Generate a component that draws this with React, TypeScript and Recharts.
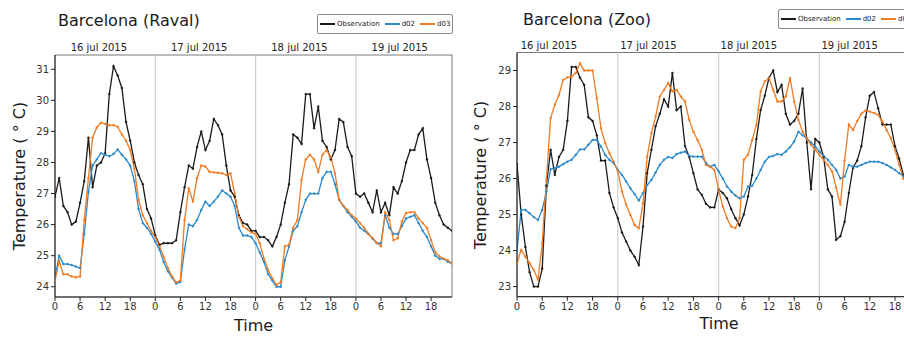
import React from 'react'
import { LineChart, Line, XAxis, YAxis, ReferenceLine, ReferenceArea } from 'recharts'

// hourly values, 16-19 jul 2015 (96 hours)
const ravalObs = [
  26.9, 27.5, 26.6, 26.4, 26.0, 26.1, 26.7, 27.4, 28.8, 27.2, 27.9, 28.0, 28.3, 30.2, 31.1, 30.8, 30.4, 29.3, 28.7, 28.0, 27.6, 27.3, 26.5, 26.2,
  25.65, 25.35, 25.4, 25.4, 25.4, 25.5, 26.4, 27.2, 27.9, 27.8, 28.5, 29.0, 28.4, 28.7, 29.4, 29.2, 28.9, 27.9, 27.1, 26.9, 26.3, 26.05, 26.0, 25.8,
  25.8, 25.6, 25.6, 25.5, 25.3, 25.6, 26.0, 26.7, 27.3, 28.9, 28.8, 28.6, 30.2, 30.2, 29.1, 29.8, 28.7, 28.5, 28.1, 28.4, 29.4, 29.3, 28.5, 28.2,
  27.0, 26.9, 27.0, 26.7, 26.4, 27.1, 26.4, 26.7, 26.3, 27.2, 27.0, 27.4, 28.0, 28.4, 28.4, 28.9, 29.1, 28.1, 27.5, 26.7, 26.3, 26.0, 25.9, 25.8,
]
const ravalD02 = [
  24.3, 25.0, 24.73, 24.73, 24.7, 24.65, 24.6, 25.7, 27.05, 27.9, 28.1, 28.3, 28.25, 28.2, 28.27, 28.42, 28.25, 28.1, 27.9, 27.4, 26.5, 26.05, 25.9, 25.7,
  25.45, 25.2, 24.8, 24.5, 24.3, 24.1, 24.15, 25.2, 26.0, 25.95, 26.15, 26.47, 26.74, 26.6, 26.74, 26.9, 27.1, 27.0, 26.9, 26.6, 25.9, 25.65, 25.65, 25.6,
  25.4, 25.1, 24.8, 24.4, 24.2, 24.0, 24.0, 24.85, 25.3, 25.8, 25.95, 26.4, 26.8, 27.0, 27.0, 27.0, 27.5, 27.7, 27.7, 27.3, 26.8, 26.6, 26.4, 26.25,
  26.1, 25.9, 25.8, 25.7, 25.55, 25.4, 25.4, 26.3, 25.9, 25.7, 25.7, 25.95, 26.2, 26.25, 26.3, 26.05, 25.8, 25.6, 25.3, 25.0, 24.9, 24.9, 24.8, 24.75,
]
const ravalD03 = [
  24.2, 24.83, 24.4, 24.4, 24.33, 24.3, 24.33, 26.15, 27.5, 28.8, 29.13, 29.28, 29.24, 29.2, 29.2, 29.15, 28.9, 28.7, 28.4, 27.8, 26.8, 26.3, 26.05, 25.8,
  25.6, 25.3, 24.97, 24.6, 24.33, 24.14, 24.2, 26.15, 27.17, 26.74, 27.5, 27.9, 27.87, 27.7, 27.68, 27.67, 27.65, 27.6, 27.65, 27.0, 26.25, 25.95, 25.85, 25.75,
  25.7, 25.4, 24.9, 24.55, 24.27, 24.06, 24.14, 25.3, 25.35, 25.9, 26.15, 27.45, 28.1, 28.25, 28.1, 27.7, 28.25, 28.4, 28.17, 27.65, 26.8, 26.6, 26.47, 26.3,
  26.2, 26.05, 25.9, 25.7, 25.56, 25.42, 25.3, 26.4, 26.15, 25.5, 25.56, 26.1, 26.37, 26.4, 26.4, 26.2, 26.05, 25.9, 25.5, 25.1, 24.98, 24.9, 24.85, 24.75,
]

const zooObs = [
  26.4, 25.0, 24.1, 23.4, 23.0, 23.0, 23.5, 25.8, 26.8, 26.1, 26.6, 26.8, 27.6, 29.1, 29.1, 28.8, 28.6, 27.7, 27.6, 27.2, 26.5, 26.5, 25.6, 25.2,
  24.9, 24.5, 24.25, 24.0, 23.83, 23.6, 24.67, 26.15, 26.8, 27.45, 27.8, 28.2, 28.0, 28.93, 27.9, 28.0, 26.9, 26.6, 26.15, 25.7, 25.55, 25.3, 25.2, 25.2,
  25.7, 25.6, 25.45, 25.15, 24.9, 24.7, 25.0, 25.5, 26.1, 27.1, 27.9, 28.3, 28.8, 29.0, 28.4, 28.6, 27.8, 27.5, 27.6, 27.8, 28.5, 27.0, 25.7, 27.1,
  27.0, 26.6, 25.7, 25.5, 24.3, 24.4, 24.8, 25.6, 26.3, 26.5, 26.9, 27.7, 28.3, 28.4, 27.95, 27.5, 27.5, 27.5, 26.9, 26.55, 26.1, 26.05, 26.0, 25.9,
]
const zooD02 = [
  24.0, 25.13, 25.13, 25.04, 24.93, 24.85, 25.13, 25.64, 26.26, 26.29, 26.33, 26.4, 26.47, 26.52, 26.66, 26.81, 26.81, 26.94, 27.07, 27.07, 26.89, 26.66, 26.52, 26.43,
  26.24, 26.1, 25.92, 25.73, 25.57, 25.39, 25.6, 25.82, 25.96, 26.17, 26.38, 26.52, 26.6, 26.57, 26.68, 26.72, 26.75, 26.63, 26.61, 26.61, 26.61, 26.43, 26.33, 26.38,
  26.2, 26.0, 25.78, 25.64, 25.53, 25.45, 25.5, 25.78, 25.8, 26.0, 26.24, 26.47, 26.6, 26.63, 26.68, 26.66, 26.75, 26.87, 27.03, 27.3, 27.2, 27.12, 27.0, 26.89,
  26.75, 26.63, 26.52, 26.38, 26.24, 26.0, 26.06, 26.38, 26.33, 26.33, 26.38, 26.43, 26.47, 26.47, 26.47, 26.43, 26.38, 26.31, 26.24, 26.15, 26.07, 26.0, 25.95, 25.9,
]
const zooD03 = [
  23.65, 24.02, 23.83, 23.65, 23.46, 23.19, 24.2, 25.96, 27.68, 28.05, 28.32, 28.74, 28.81, 28.83, 28.93, 29.2, 29.0, 29.0, 29.0, 28.23, 27.4, 26.98, 26.7, 26.47,
  26.2, 25.64, 25.27, 24.99, 24.71, 24.62, 25.31, 26.61, 27.26, 27.72, 28.28, 28.46, 28.65, 28.42, 28.46, 28.28, 28.14, 27.63, 27.3, 27.07, 26.8, 26.38, 26.33, 26.24,
  25.7, 25.22, 24.9, 24.67, 24.62, 24.9, 26.52, 26.66, 27.07, 27.49, 28.42, 28.7, 28.79, 28.46, 28.14, 28.14, 28.28, 28.79, 28.14, 27.63, 27.3, 27.12, 26.94, 26.8,
  26.66, 26.52, 26.38, 26.2, 25.75, 25.27, 26.5, 27.5, 27.35, 27.6, 27.8, 27.89, 27.86, 27.82, 27.77, 27.58, 27.35, 27.12, 26.8, 26.38, 26.0, 25.92, 25.85, 25.8,
]

const hourTicks = [0, 6, 12, 18, 24, 30, 36, 42, 48, 54, 60, 66, 72, 78, 84, 90]
const dayStarts = [24, 48, 72]
const dateLabels = ['16 jul 2015', '17 jul 2015', '18 jul 2015', '19 jul 2015']
const ravalYTicks = [24, 25, 26, 27, 28, 29, 30, 31]
const zooYTicks = [23, 24, 25, 26, 27, 28, 29]

const obsColor = '#1a1a1a'
const d02Color = '#2a88cc'
const d03Color = '#ef7b22'
const font = '"DejaVu Sans", sans-serif'

function LegendBox({ left, top }: { left: number; top: number }) {
  const items: [string, string][] = [
    ['Observation', obsColor],
    ['d02', d02Color],
    ['d03', d03Color],
  ]
  return (
    <div
      style={{
        position: 'absolute', left, top, height: 20, boxSizing: 'border-box',
        border: '1px solid #8a8a8a', borderRadius: 2, display: 'flex', alignItems: 'center',
        padding: '0 2px', fontSize: 7, color: '#222', whiteSpace: 'nowrap', background: '#fff',
      }}
    >
      {items.map(([name, color], i) => (
        <span key={name} style={{ display: 'flex', alignItems: 'center', marginRight: i < 2 ? 5 : 0 }}>
          <span style={{ display: 'inline-block', width: 15, height: 2.5, background: color, marginRight: 2 }} />
          {name}
        </span>
      ))}
    </div>
  )
}

type PanelProps = {
  left: number
  obs: number[]
  d02: number[]
  d03: number[]
  yDomain: [number, number]
  yTicks: number[]
  dateTicks: number[]
  marginTop: number
  marginRight: number
  yWidth: number
  xHeight: number
}

function Panel(p: PanelProps) {
  const data = p.obs.map((v, i) => ({ h: i, obs: v, d02: p.d02[i], d03: p.d03[i] }))
  const tickStyle = { fontSize: 10, fill: '#333', fontFamily: font }
  return (
    <div style={{ position: 'absolute', left: p.left, top: 0 }}>
      <LineChart
        width={460}
        height={339}
        data={data}
        margin={{ top: p.marginTop, right: p.marginRight, bottom: 0, left: 0 }}
      >
        <XAxis
          xAxisId="top"
          orientation="top"
          dataKey="h"
          type="number"
          domain={[0, 95]}
          allowDataOverflow
          ticks={p.dateTicks}
          tickFormatter={(_v: number, i: number) => dateLabels[i]}
          axisLine={false}
          tickLine={false}
          tickSize={0}
          tickMargin={4}
          height={20}
          interval={0}
          tick={{ fontSize: 10, fill: '#222', fontFamily: font }}
        />
        <XAxis
          dataKey="h"
          type="number"
          domain={[0, 95]}
          allowDataOverflow
          ticks={hourTicks}
          interval={0}
          tickFormatter={(v: number) => String(v % 24)}
          height={p.xHeight}
          tickSize={4}
          tickMargin={2}
          stroke="#222"
          tick={tickStyle}
        />
        <YAxis
          type="number"
          domain={p.yDomain}
          allowDataOverflow
          ticks={p.yTicks}
          interval={0}
          width={p.yWidth}
          tickSize={4}
          tickMargin={2}
          stroke="#222"
          tick={tickStyle}
        />
        <ReferenceArea
          x1={0}
          x2={95}
          y1={p.yDomain[0]}
          y2={p.yDomain[1]}
          fill="none"
          stroke="#555"
          strokeWidth={0.8}
          ifOverflow="visible"
        />
        {dayStarts.map((d) => (
          <ReferenceLine key={d} x={d} stroke="#cfcfcf" strokeWidth={1.2} />
        ))}
        <Line dataKey="obs" stroke={obsColor} strokeWidth={1.3} dot={{ r: 1, fill: obsColor, stroke: obsColor, strokeWidth: 0.4 }} activeDot={false} isAnimationActive={false} />
        <Line dataKey="d02" stroke={d02Color} strokeWidth={1.3} dot={{ r: 1, fill: d02Color, stroke: d02Color, strokeWidth: 0.4 }} activeDot={false} isAnimationActive={false} />
        <Line dataKey="d03" stroke={d03Color} strokeWidth={1.3} dot={{ r: 1, fill: d03Color, stroke: d03Color, strokeWidth: 0.4 }} activeDot={false} isAnimationActive={false} />
      </LineChart>
    </div>
  )
}

const textBase: React.CSSProperties = { position: 'absolute', whiteSpace: 'nowrap', color: '#1a1a1a', lineHeight: '16px' }

export default function App() {
  return (
    <div
      style={{
        position: 'absolute', left: 0, top: 0, width: 904, height: 339,
        overflow: 'hidden', background: '#fff', fontFamily: font,
      }}
    >
      <Panel
        left={0}
        obs={ravalObs}
        d02={ravalD02}
        d03={ravalD03}
        yDomain={[23.67, 31.46]}
        yTicks={ravalYTicks}
        dateTicks={[10.5, 34.5, 58.5, 82.5]}
        marginTop={35}
        marginRight={8}
        yWidth={55}
        xHeight={42}
      />
      <Panel
        left={460}
        obs={zooObs}
        d02={zooD02}
        d03={zooD03}
        yDomain={[22.72, 29.5]}
        yTicks={zooYTicks}
        dateTicks={[7.6, 31.3, 55.2, 79.2]}
        marginTop={32.5}
        marginRight={4}
        yWidth={57}
        xHeight={42.3}
      />

      <div style={{ ...textBase, left: 58, top: 13, fontSize: 16 }}>Barcelona (Raval)</div>
      <div style={{ ...textBase, left: 523, top: 12, fontSize: 16 }}>Barcelona (Zoo)</div>

      <LegendBox left={317} top={14} />
      <LegendBox left={778} top={9} />

      <div style={{ ...textBase, left: 20, top: 176, fontSize: 16, transform: 'translate(-50%, -50%) rotate(-90deg)' }}>
        Temperature ( ° C)
      </div>
      <div style={{ ...textBase, left: 481, top: 175, fontSize: 16, transform: 'translate(-50%, -50%) rotate(-90deg)' }}>
        Temperature ( ° C)
      </div>

      <div style={{ ...textBase, left: 253.5, top: 318, fontSize: 16, transform: 'translateX(-50%)' }}>Time</div>
      <div style={{ ...textBase, left: 719, top: 316, fontSize: 16, transform: 'translateX(-50%)' }}>Time</div>
    </div>
  )
}
